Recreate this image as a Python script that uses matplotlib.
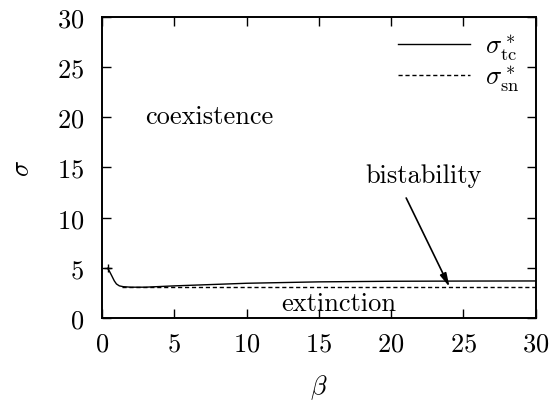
import numpy as np
import matplotlib
matplotlib.use("Agg")
import matplotlib.pyplot as plt

# sigma*_tc (transcritical) and sigma*_sn (saddle-node) against beta
beta_tc = [0.39, 0.5, 0.67, 0.85, 1.0, 1.2, 1.47, 2.0, 3.0, 5.0, 10, 15, 20, 25, 30]
sigma_tc = [4.95, 4.7, 4.22, 3.7, 3.39, 3.2, 3.12, 3.07, 3.07, 3.2, 3.46, 3.6, 3.66, 3.68, 3.69]
beta_sn = [1.4, 5, 10, 15, 20, 25, 30]
sigma_sn = [3.09, 3.09, 3.09, 3.09, 3.09, 3.09, 3.09]

xticks = [0, 5, 10, 15, 20, 25, 30]
yticks = [0, 5, 10, 15, 20, 25, 30]

plt.rcParams['font.family'] = 'serif'
plt.rcParams['font.serif'] = ['cmr10']
plt.rcParams['mathtext.fontset'] = 'cm'
plt.rcParams['axes.formatter.use_mathtext'] = True

fig = plt.figure(figsize=(5.58, 4.02), dpi=100)
ax = fig.add_axes([0.1828, 0.2065, 0.7769, 0.7488])

ax.plot(beta_tc, sigma_tc, 'k-', lw=1.0, label=r'$\sigma^*_{\mathrm{tc}}$')
ax.plot(beta_sn, sigma_sn, 'k--', lw=1.0, dashes=(3, 2), label=r'$\sigma^*_{\mathrm{sn}}$')
ax.plot([beta_tc[0]], [sigma_tc[0]], 'k+', ms=6, mew=1.0)

ax.set_xlim(0, 30)
ax.set_ylim(0, 30)
ax.set_xticks(xticks)
ax.set_yticks(yticks)
ax.tick_params(direction='in', length=6.5, width=1.0, top=True, right=True,
               labelsize=19)
ax.tick_params(axis='x', pad=10)
ax.tick_params(axis='y', pad=13)
for s in ax.spines.values():
    s.set_linewidth(1.4)

ax.set_xlabel(r'$\beta$', fontsize=19, labelpad=12)
ax.set_ylabel(r'$\sigma$', fontsize=19, labelpad=16)

ax.text(7.4, 20.1, 'coexistence', fontsize=19, ha='center', va='center')
ax.text(22.25, 14.26, 'bistability', fontsize=19, ha='center', va='center')
ax.text(16.4, 1.5, 'extinction', fontsize=19, ha='center', va='center')
ax.annotate('', xy=(24.05, 3.09), xytext=(21.05, 11.96),
            arrowprops=dict(arrowstyle='-|>,head_length=0.8,head_width=0.2',
                            color='k', lw=1.2, shrinkA=0, shrinkB=0))

leg = ax.legend(loc='upper right', fontsize=19, frameon=False, handlelength=2.7,
                handletextpad=0.6, labelspacing=0.05, borderaxespad=0.2)

fig.savefig('out.png', dpi=100)
